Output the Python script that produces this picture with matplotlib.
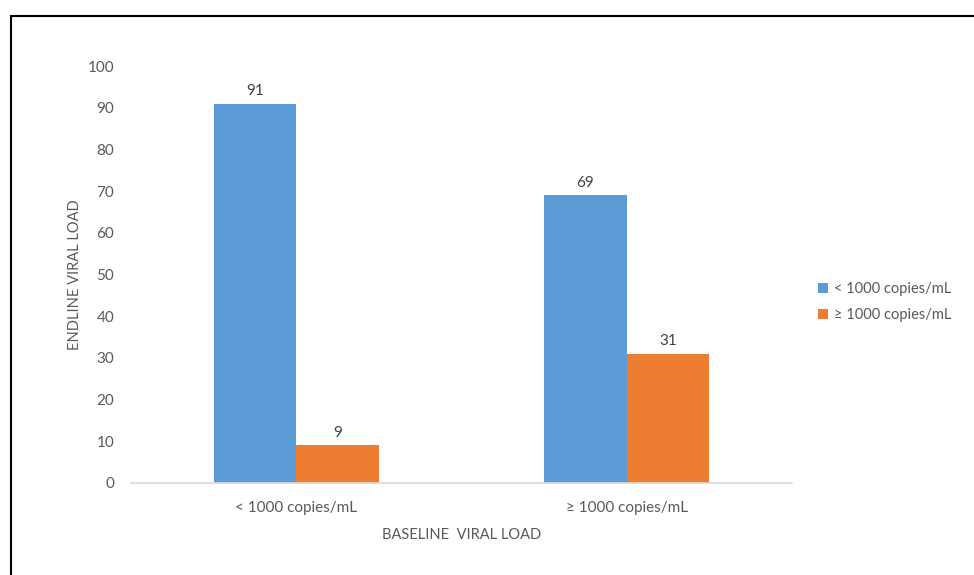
import numpy as np
import matplotlib.pyplot as plt
from matplotlib.patches import Rectangle

categories = ['< 1000 copies/mL', '\u2265 1000 copies/mL']
series_names = ['< 1000 copies/mL', '\u2265 1000 copies/mL']
below_1000 = [91, 69]
above_1000 = [9, 31]

colours = ['#5B9BD5', '#ED7D31']
grey = '#595959'

plt.rcParams['font.family'] = ['Lato', 'DejaVu Sans']

fig = plt.figure(figsize=(9.74, 5.75), dpi=100)
ax = fig.add_axes([131 / 974, 1 - 483 / 575, 661 / 974, 417 / 575])

x = np.arange(len(categories))
width = 0.25
bars1 = ax.bar(x - width / 2, below_1000, width, color=colours[0], label=series_names[0])
bars2 = ax.bar(x + width / 2, above_1000, width, color=colours[1], label=series_names[1])

for bars in (bars1, bars2):
    for b in bars:
        ax.annotate(str(int(b.get_height())), (b.get_x() + b.get_width() / 2, b.get_height()),
                    xytext=(0, 4), textcoords='offset points', ha='center', va='bottom',
                    fontsize=11, color='#404040')

ax.set_xlim(-0.5, 1.5)
ax.set_ylim(0, 100)
ax.set_yticks(range(0, 101, 10))
ax.set_xticks(x)
ax.set_xticklabels(categories)
ax.tick_params(axis='both', length=0, labelsize=11, labelcolor=grey)
ax.tick_params(axis='y', pad=12)
ax.tick_params(axis='x', pad=13)
for s in ['top', 'right', 'left']:
    ax.spines[s].set_visible(False)
ax.spines['bottom'].set_color('#d9d9d9')
ax.spines['bottom'].set_linewidth(1.2)

ax.set_ylabel('ENDLINE VIRAL LOAD', fontsize=10.5, color=grey, labelpad=4)
ax.set_xlabel('BASELINE  VIRAL LOAD', fontsize=10.5, color=grey, labelpad=9)

fig.legend(loc='center left', bbox_to_anchor=(805 / 974, 1 - 302 / 575), frameon=False,
           fontsize=10.5, labelcolor=grey, handlelength=0.7, handleheight=0.7,
           handletextpad=0.4, labelspacing=0.8)

# outer frame
fig.patches.append(Rectangle((10.5 / 974, -0.1), 1.2, 1 - 15.5 / 575 + 0.1,
                             transform=fig.transFigure, fill=False,
                             edgecolor='black', linewidth=1.5))

fig.savefig('out.png', dpi=100)
